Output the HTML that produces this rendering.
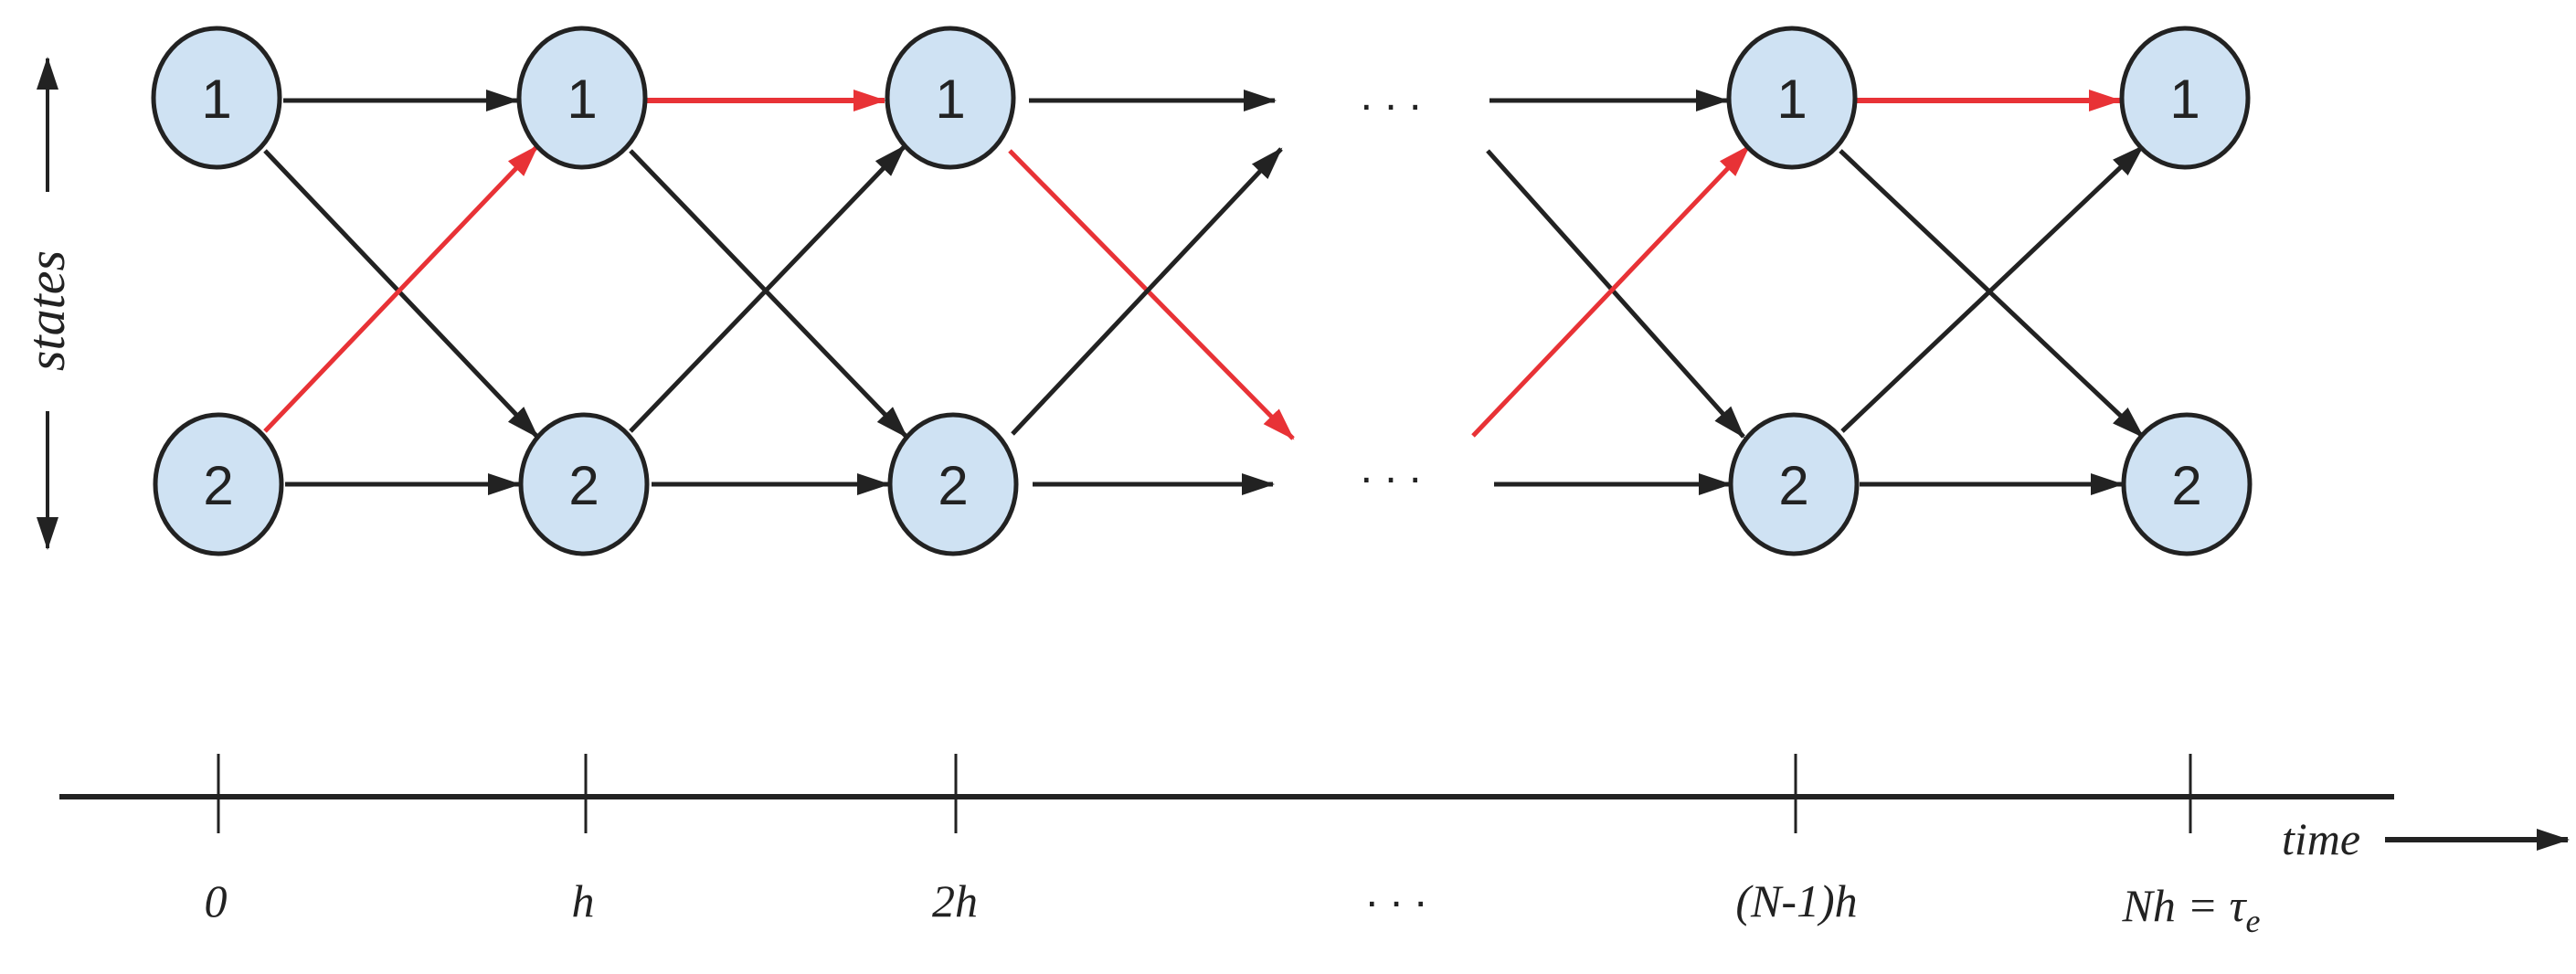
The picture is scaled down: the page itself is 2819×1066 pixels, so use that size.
<!DOCTYPE html>
<html><head><meta charset="utf-8"><style>body{margin:0;background:#fff}svg{display:block}</style></head><body>
<svg width="2819" height="1066" viewBox="0 0 2819 1066" xmlns="http://www.w3.org/2000/svg">
<defs>
<marker id="ab" viewBox="0 0 36 24" refX="34" refY="12" markerWidth="36" markerHeight="24" markerUnits="userSpaceOnUse" orient="auto"><path d="M0,0 L36,12 L0,24 z" fill="#222"/></marker>
<marker id="ar" viewBox="0 0 36 24" refX="34" refY="12" markerWidth="36" markerHeight="24" markerUnits="userSpaceOnUse" orient="auto"><path d="M0,0 L36,12 L0,24 z" fill="#e83236"/></marker>
</defs>
<g stroke-width="5" fill="none">
<line x1="310" y1="110" x2="566" y2="110" stroke="#222" marker-end="url(#ab)"/>
<line x1="708" y1="110" x2="968" y2="110" stroke="#e83236" stroke-width="6" marker-end="url(#ar)"/>
<line x1="1126" y1="110" x2="1395" y2="110" stroke="#222" marker-end="url(#ab)"/>
<line x1="1630" y1="110" x2="1890" y2="110" stroke="#222" marker-end="url(#ab)"/>
<line x1="2031" y1="110" x2="2320" y2="110" stroke="#e83236" stroke-width="6" marker-end="url(#ar)"/>
<line x1="312" y1="530" x2="568" y2="530" stroke="#222" marker-end="url(#ab)"/>
<line x1="713" y1="530" x2="972" y2="530" stroke="#222" marker-end="url(#ab)"/>
<line x1="1130" y1="530" x2="1393" y2="530" stroke="#222" marker-end="url(#ab)"/>
<line x1="1635" y1="530" x2="1893" y2="530" stroke="#222" marker-end="url(#ab)"/>
<line x1="2035" y1="530" x2="2322" y2="530" stroke="#222" marker-end="url(#ab)"/>
<line x1="290" y1="165" x2="588" y2="478" stroke="#222" marker-end="url(#ab)"/>
<line x1="690" y1="165" x2="992" y2="478" stroke="#222" marker-end="url(#ab)"/>
<line x1="1105" y1="165" x2="1415" y2="480" stroke="#e83236" marker-end="url(#ar)"/>
<line x1="1628" y1="165" x2="1908" y2="478" stroke="#222" marker-end="url(#ab)"/>
<line x1="2014" y1="165" x2="2345" y2="478" stroke="#222" marker-end="url(#ab)"/>
<line x1="290" y1="472" x2="588" y2="160" stroke="#e83236" marker-end="url(#ar)"/>
<line x1="690" y1="472" x2="990" y2="160" stroke="#222" marker-end="url(#ab)"/>
<line x1="1108" y1="475" x2="1402" y2="163" stroke="#222" marker-end="url(#ab)"/>
<line x1="1612" y1="477" x2="1914" y2="160" stroke="#e83236" marker-end="url(#ar)"/>
<line x1="2016" y1="472" x2="2345" y2="160" stroke="#222" marker-end="url(#ab)"/>
</g>
<g fill="#cfe2f3" stroke="#222" stroke-width="5">
<ellipse cx="237" cy="107" rx="69" ry="76"/><ellipse cx="637" cy="107" rx="69" ry="76"/><ellipse cx="1040" cy="107" rx="69" ry="76"/><ellipse cx="1961" cy="107" rx="69" ry="76"/><ellipse cx="2391" cy="107" rx="69" ry="76"/>
<ellipse cx="239" cy="530" rx="69" ry="76"/><ellipse cx="639" cy="530" rx="69" ry="76"/><ellipse cx="1043" cy="530" rx="69" ry="76"/><ellipse cx="1963" cy="530" rx="69" ry="76"/><ellipse cx="2393" cy="530" rx="69" ry="76"/>
</g>
<g font-family="Liberation Sans, sans-serif" font-size="60" fill="#222" text-anchor="middle">
<text x="237" y="129">1</text><text x="637" y="129">1</text><text x="1040" y="129">1</text><text x="1961" y="129">1</text><text x="2391" y="129">1</text>
<text x="239" y="552">2</text><text x="639" y="552">2</text><text x="1043" y="552">2</text><text x="1963" y="552">2</text><text x="2393" y="552">2</text>
</g>
<g font-family="Liberation Sans, sans-serif" font-size="48" fill="#222" text-anchor="middle">
<text x="1522" y="120">. . .</text><text x="1522" y="528">. . .</text>
</g>
<g stroke="#222" stroke-width="4" fill="none">
<line x1="52" y1="210" x2="52" y2="64" marker-end="url(#ab)"/>
<line x1="52" y1="450" x2="52" y2="600" marker-end="url(#ab)"/>
</g>
<text transform="translate(70,340) rotate(-90)" font-family="Liberation Serif, serif" font-style="italic" font-size="58" fill="#222" text-anchor="middle">states</text>
<line x1="65" y1="872" x2="2620" y2="872" stroke="#222" stroke-width="6"/>
<g stroke="#222" stroke-width="3">
<line x1="239" y1="825" x2="239" y2="912"/><line x1="641" y1="825" x2="641" y2="912"/><line x1="1046" y1="825" x2="1046" y2="912"/><line x1="1965" y1="825" x2="1965" y2="912"/><line x1="2397" y1="825" x2="2397" y2="912"/>
</g>
<line x1="2610" y1="919" x2="2810" y2="919" stroke="#222" stroke-width="6" marker-end="url(#ab)"/>
<g font-family="Liberation Serif, serif" font-style="italic" font-size="50" fill="#222" text-anchor="middle">
<text x="2540" y="935">time</text>
<text x="236" y="1003">0</text><text x="638" y="1003">h</text><text x="1045" y="1003">2h</text>
<text x="1966" y="1003">(N-1)h</text>
<text x="2398" y="1008">Nh = τ<tspan font-size="36" dy="12">e</tspan></text>
</g>
<text x="1528" y="992" font-family="Liberation Sans, sans-serif" font-size="48" fill="#222" text-anchor="middle">. . .</text>
</svg>
</body></html>
